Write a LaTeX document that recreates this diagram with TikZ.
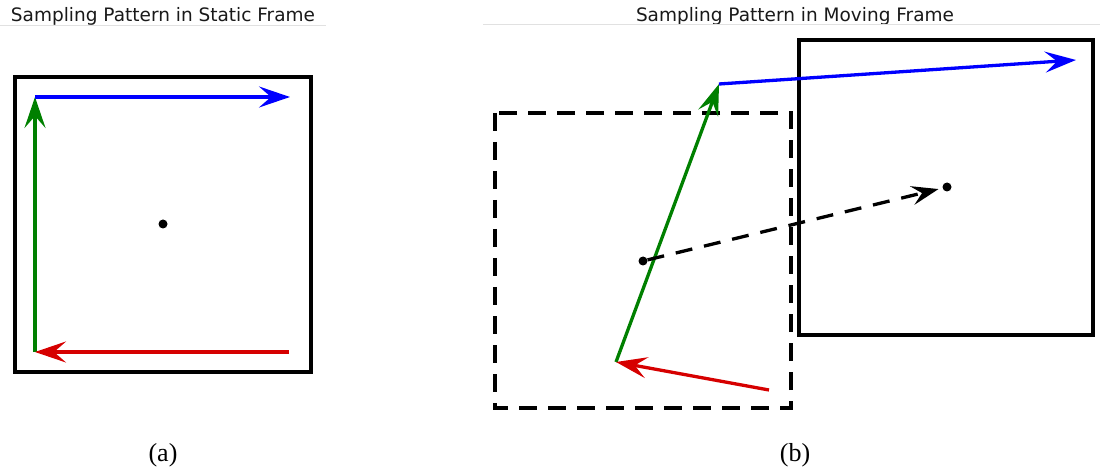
\documentclass[tikz,border=0pt]{standalone}
\usepackage{fontspec}
\setmainfont{Liberation Serif}
\newfontfamily\titlefont{DejaVu Sans}
\usepackage{xcolor}
\usepackage{tikz}
\usetikzlibrary{arrows.meta}

\definecolor{pblue}{RGB}{0,0,255}
\definecolor{pgreen}{RGB}{0,128,0}
\definecolor{pred}{RGB}{214,0,0}
\definecolor{rulegray}{RGB}{225,225,225}

\begin{document}
\begin{tikzpicture}[x=1pt,y=-1pt,
  frame/.style={line width=3.6pt},
  vec/.style={line width=3.3pt,-{Stealth[length=31pt,width=21pt,inset=12pt]}},
  motion/.style={line width=3.3pt,dash pattern=on 17pt off 12pt,-{Stealth[length=27pt,width=19pt,inset=10pt]},shorten >=4pt},
  dot/.style={circle,fill=black,inner sep=0pt,minimum size=9pt},
  title/.style={font=\titlefont\fontsize{18.5}{21}\selectfont,text=black!90},
  sub/.style={font=\fontsize{26}{30}\selectfont}]
\useasboundingbox (0,0) rectangle (1100,470);
% titles
\node[title] (ta) at (163,16) {Sampling Pattern in Static Frame};
\node[title] (tb) at (795,16) {Sampling Pattern in Moving Frame};
\draw[rulegray,line width=1pt] (0,26) -- (326,26);
\draw[rulegray,line width=1pt] (483,25) -- (1100,25);
% (a) static frame
\draw[frame] (15,77) rectangle (311,372);
\node[dot] (ca) at (163,224) {};
\coordinate (a0) at (35,352); \coordinate (a1) at (35,97);
\coordinate (a2) at (290,97); \coordinate (a3) at (289,352);
\draw[vec,pgreen] (a0) -- (a1);
\draw[vec,pblue] (a1) -- (a2);
\draw[vec,pred] (a3) -- (a0);
\node[sub] (la) at (163,455) {(a)};
% (b) moving frame
\draw[frame,dash pattern=on 18pt off 11pt] (495,113) rectangle (791,408);
\draw[frame] (799,40) rectangle (1093,335);
\node[dot] (cb0) at (643,261) {};
\node[dot] (cb1) at (947,187) {};
\coordinate (b0) at (616,362); \coordinate (b1) at (719,84);
\coordinate (b2) at (1076,60); \coordinate (b3) at (769,390);
\draw[vec,pgreen] (b0) -- (b1);
\draw[vec,pblue] (b1) -- (b2);
\draw[vec,pred] (b3) -- (b0);
\draw[motion] (cb0) -- (cb1);
\node[sub] (lb) at (795,455) {(b)};
\end{tikzpicture}
\end{document}
